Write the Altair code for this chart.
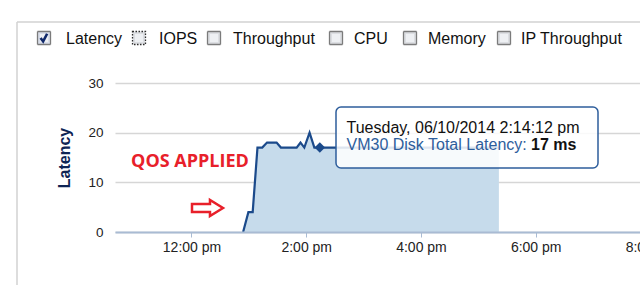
import altair as alt
import pandas as pd

# ---------------- data ----------------
DAY = "2014-06-10"
TIMES = ["12:54:00", "12:59:30", "13:04:00", "13:09:00", "13:14:00", "13:19:00",
         "13:29:00", "13:33:30", "13:50:00", "13:54:00", "13:58:00", "14:03:30",
         "14:08:30", "14:14:12", "17:21:30"]
LATENCY = [0, 4, 4, 17, 17, 18, 18, 17, 17, 18, 17, 20, 17, 17, 17]
HIGHLIGHT_TIME = "14:14:12"
HIGHLIGHT_VALUE = 17
TICK_HOURS = [12, 14, 16, 18, 20]
Y_TICKS = [0, 10, 20, 30]
LEGEND_LABELS = ["Latency", "IOPS", "Throughput", "CPU", "Memory", "IP Throughput"]
LEGEND_CHECKED = [True, False, False, False, False, False]
LEGEND_FOCUSED = [False, True, False, False, False, False]
TOOLTIP_HEADER = "Tuesday, 06/10/2014 2:14:12 pm"
TOOLTIP_SERIES = "VM30 Disk Total Latency:"
TOOLTIP_UNIT = "ms"
ANNOTATION = "QOS APPLIED"
Y_TITLE = "Latency"

# ---------------- layout / style ----------------
PAD_L, PAD_T = 115, 83
W, H = 545, 149
FONT = "Liberation Sans"
NAVY = "#1b4a8b"
FILL = "#c6dbeb"
LEGEND_TEXT_X = [66, 159, 233, 354, 428, 521]
LEGEND_BOX_X = [44, 139, 214, 336, 410, 504]

df = pd.DataFrame({"t": [f"{DAY}T{s}" for s in TIMES], "v": LATENCY})
hl = pd.DataFrame({"t": [f"{DAY}T{HIGHLIGHT_TIME}"], "v": [HIGHLIGHT_VALUE]})
one = pd.DataFrame({"k": [0]})


def dt(h, m=0, s=0):
    return alt.DateTime(year=2014, month=6, date=10, hours=h, minutes=m, seconds=s)


xenc = alt.X(
    "t:T",
    scale=alt.Scale(domain=[dt(10, 40), dt(20, 10)]),
    axis=alt.Axis(
        title=None, values=[dt(h) for h in TICK_HOURS], grid=False,
        labelExpr="timeFormat(datum.value, '%-I:%M ') + (hours(datum.value) < 12 ? 'am' : 'pm')",
        domainColor="#a9bbd3", domainWidth=2, tickColor="#a9bbd3", tickSize=5,
        labelFont=FONT, labelFontSize=14, labelColor="#222222", labelPadding=3,
        zindex=1,
    ),
)
yenc = alt.Y(
    "v:Q",
    scale=alt.Scale(domain=[0, 30], nice=False),
    axis=alt.Axis(
        title=Y_TITLE, values=Y_TICKS, domain=False, ticks=False,
        gridColor="#d6d6d6", gridWidth=1.5,
        labelFont=FONT, labelFontSize=13.5, labelColor="#222222", labelPadding=12,
        titleFont=FONT, titleFontSize=16, titleFontWeight="bold", titleColor="#0f2454",
        titlePadding=15,
    ),
)

area = alt.Chart(df).mark_area(color=FILL, opacity=1).encode(x=xenc, y=yenc)
line = alt.Chart(df).mark_line(color=NAVY, strokeWidth=2.2).encode(x="t:T", y="v:Q")
diamond = alt.Chart(hl).mark_point(shape="diamond", filled=True, size=110, color=NAVY,
                                   opacity=1).encode(x="t:T", y="v:Q")

layers = []

# panel frame
layers.append(alt.Chart(one).mark_rule(color="#d2d2d2", strokeWidth=1.5).encode(
    x=alt.value(17 - PAD_L), x2=alt.value(700), y=alt.value(22 - PAD_T)))
layers.append(alt.Chart(one).mark_rule(color="#d2d2d2", strokeWidth=1.5).encode(
    x=alt.value(17 - PAD_L), y=alt.value(22 - PAD_T), y2=alt.value(300)))

# legend checkboxes
for lab, chk, foc, tx, bxp in zip(LEGEND_LABELS, LEGEND_CHECKED, LEGEND_FOCUSED,
                                  LEGEND_TEXT_X, LEGEND_BOX_X):
    bx = bxp - PAD_L
    by = 38 - PAD_T
    layers.append(alt.Chart(one).mark_square(
        size=169, filled=True, fill="#dcdee2" if not chk else "#d9deea",
        stroke="#2e2e2e" if foc else "#7b7b7b", strokeWidth=1.3,
        strokeDash=[1.5, 1.5] if foc else [1, 0], opacity=1).encode(
        x=alt.value(bx), y=alt.value(by)))
    layers.append(alt.Chart(one).mark_square(
        size=64, filled=True, fill="#eef0f3", opacity=1).encode(
        x=alt.value(bx), y=alt.value(by)))
    if chk:
        layers.append(alt.Chart(one).mark_point(
            shape="M-0.6,0.0L-0.15,0.6L0.55,-0.75", filled=False, size=130,
            stroke="#10286a", strokeWidth=2.6, opacity=1).encode(
            x=alt.value(bx), y=alt.value(by)))
    layers.append(alt.Chart(one).mark_text(
        align="left", baseline="alphabetic", font=FONT, fontSize=16, color="#111111").encode(
        x=alt.value(tx - PAD_L), y=alt.value(44 - PAD_T), text=alt.value(lab)))

# annotation
annot = alt.Chart(one).mark_text(
    align="center", baseline="alphabetic", font="Open Sans", fontWeight="bold",
    fontSize=18, color="#e8202a").encode(
    x=alt.value(190 - PAD_L), y=alt.value(167 - PAD_T), text=alt.value(ANNOTATION))
arrow = alt.Chart(one).mark_point(
    shape="M-1,-0.26L0.16,-0.26L0.16,-0.52L1,0L0.16,0.52L0.16,0.26L-1,0.26Z",
    size=961, filled=True, fill="#ffffff", stroke="#e8202a", strokeWidth=2.5,
    opacity=1).encode(x=alt.value(207.5 - PAD_L), y=alt.value(208 - PAD_T))

# tooltip
tip_box = alt.Chart(one).mark_rect(
    fill="#ffffff", fillOpacity=0.86, stroke="#2e5e9c", strokeWidth=1.5,
    cornerRadius=5).encode(
    x=alt.value(336 - PAD_L), x2=alt.value(598 - PAD_L),
    y=alt.value(107 - PAD_T), y2=alt.value(168 - PAD_T))
tip1 = alt.Chart(one).mark_text(
    align="left", baseline="alphabetic", font=FONT, fontSize=16, color="#111111").encode(
    x=alt.value(346.5 - PAD_L), y=alt.value(133.3 - PAD_T), text=alt.value(TOOLTIP_HEADER))
tip2 = alt.Chart(one).mark_text(
    align="left", baseline="alphabetic", font=FONT, fontSize=16, color="#2e5e9c").encode(
    x=alt.value(346.5 - PAD_L), y=alt.value(150 - PAD_T), text=alt.value(TOOLTIP_SERIES))
tip3 = alt.Chart(hl).transform_calculate(
    lbl=f"datum.v + ' {TOOLTIP_UNIT}'").mark_text(
    align="left", baseline="alphabetic", font=FONT, fontSize=16, fontWeight="bold",
    color="#111111").encode(
    x=alt.value(531 - PAD_L), y=alt.value(150 - PAD_T), text="lbl:N")

chart = alt.layer(
    area, line, diamond, *layers, annot, arrow, tip_box, tip1, tip2, tip3
).properties(
    width=W, height=H,
    autosize=alt.AutoSizeParams(type="none"),
    padding={"left": PAD_L, "top": PAD_T, "right": 640 - PAD_L - W, "bottom": 285 - PAD_T - H},
    background="#ffffff",
).configure_view(stroke=None)

chart.save("out.html", embed_options={"renderer": "svg", "actions": False})
